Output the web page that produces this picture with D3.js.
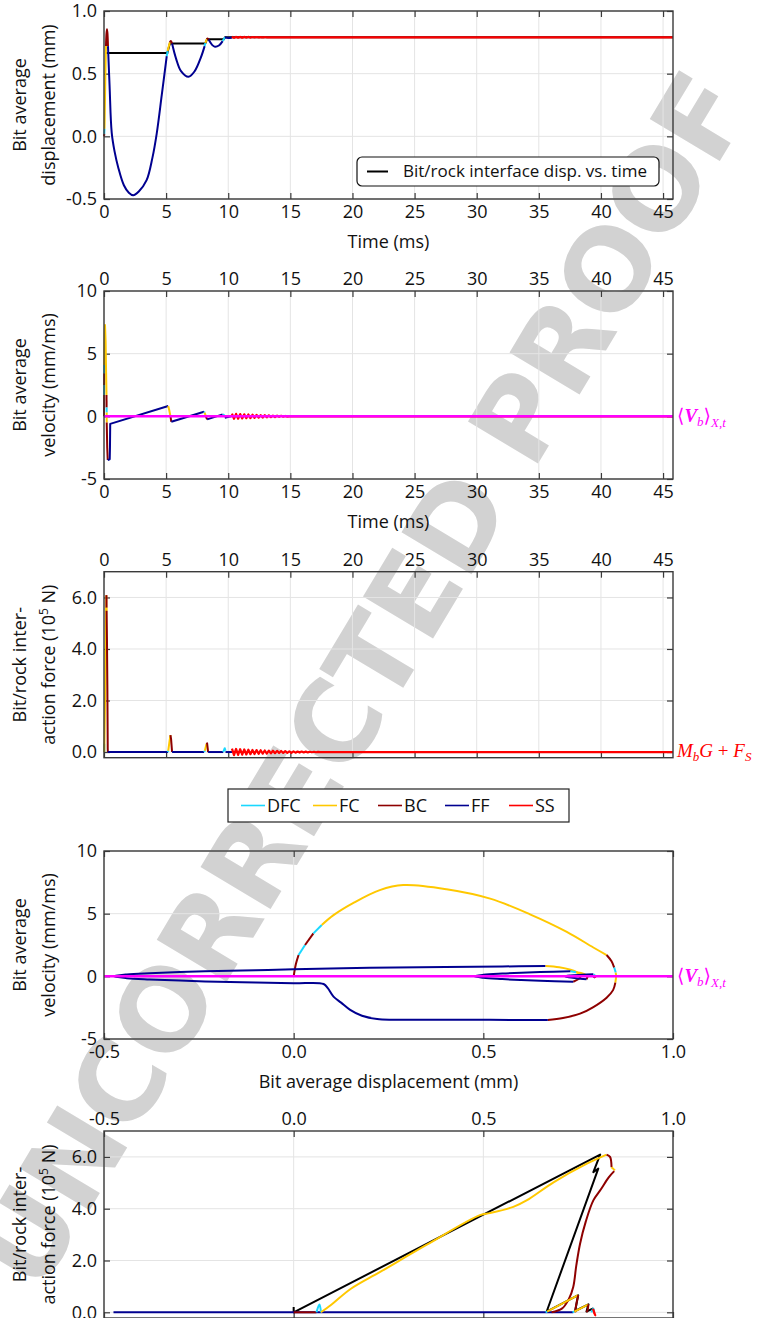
<!DOCTYPE html>
<html>
<head>
<meta charset="utf-8">
<script src="https://cdn.jsdelivr.net/npm/d3@7"></script>
<style>
  body { margin: 0; background: #fff; }
  text { font-family: "Open Sans", sans-serif; }
</style>
</head>
<body>
<div id="chart"></div>
<script>
// ---- data ----
const tMax = 45.8;
const timeTicks = [0, 5, 10, 15, 20, 25, 30, 35, 40, 45];
const dispTicks = [-0.5, 0, 0.5, 1.0];
const velTicks = [-5, 0, 5, 10];
const forceTicks = [0, 2, 4, 6];
const modes = ["DFC", "FC", "BC", "FF", "SS"];

// displacement (mm) vs time (ms), one entry per regime segment
const dispTime = [
  {mode: "BC",  pts: [[0, 0], [0.02, 0.02]]},
  {mode: "DFC", pts: [[0.02, 0.02], [0.04, 0.06]]},
  {mode: "FC",  pts: [[0.04, 0.06], [0.08, 0.3], [0.12, 0.55], [0.16, 0.72]]},
  {mode: "BC",  pts: [[0.16, 0.72], [0.2, 0.82], [0.24, 0.855], [0.28, 0.82], [0.32, 0.72]]},
  {mode: "FF",  pts: [[0.32, 0.72], [0.45, 0.4], [0.62, 0.03], [0.85, -0.12], [1.15, -0.25], [1.6, -0.39],
                      [2.0, -0.45], [2.35, -0.47], [2.8, -0.44], [3.43, -0.35], [3.9, -0.17], [4.24, 0.02],
                      [4.65, 0.33], [5.05, 0.64]]},
  {mode: "DFC", pts: [[5.05, 0.64], [5.12, 0.68]]},
  {mode: "FC",  pts: [[5.12, 0.68], [5.3, 0.75]]},
  {mode: "BC",  pts: [[5.3, 0.75], [5.38, 0.76], [5.48, 0.74]]},
  {mode: "FF",  pts: [[5.48, 0.74], [5.8, 0.62], [6.2, 0.52], [6.8, 0.475], [7.3, 0.52], [7.8, 0.63], [8.1, 0.72]]},
  {mode: "DFC", pts: [[8.1, 0.72], [8.16, 0.745]]},
  {mode: "FC",  pts: [[8.16, 0.745], [8.28, 0.775]]},
  {mode: "BC",  pts: [[8.28, 0.775], [8.34, 0.78], [8.42, 0.772]]},
  {mode: "FF",  pts: [[8.42, 0.772], [8.7, 0.73], [8.94, 0.715], [9.25, 0.725], [9.55, 0.76]]},
  {mode: "DFC", pts: [[9.55, 0.76], [9.74, 0.79]]},
  {mode: "FF",  pts: [[9.74, 0.79], [10.0, 0.784], [10.3, 0.788]]}
];
// bit/rock interface displacement vs time
const interfaceDisp = [[0.2, 0.665], [5.1, 0.665], [5.3, 0.74], [8.15, 0.74], [8.3, 0.775],
                       [9.65, 0.775], [9.75, 0.79], [tMax, 0.79]];

// velocity (mm/ms) vs time (ms)
const velTime = [
  {mode: "BC",  pts: [[0, 0], [0.008, 1.7]]},
  {mode: "DFC", pts: [[0.008, 1.7], [0.012, 2.5]]},
  {mode: "BC",  pts: [[0.012, 2.5], [0.017, 3.43]]},
  {mode: "DFC", pts: [[0.017, 3.43], [0.022, 4.09]]},
  {mode: "FC",  pts: [[0.022, 4.09], [0.05, 6.5], [0.08, 7.28], [0.13, 6.0], [0.17, 3.5], [0.2, 1.7]]},
  {mode: "BC",  pts: [[0.2, 1.7], [0.21, 0.7]]},
  {mode: "DFC", pts: [[0.21, 0.7], [0.215, 0.3]]},
  {mode: "FC",  pts: [[0.215, 0.3], [0.22, -0.5]]},
  {mode: "BC",  pts: [[0.22, -0.5], [0.26, -2.5], [0.3, -3.48]]},
  {mode: "FF",  pts: [[0.3, -3.48], [0.46, -3.43], [0.48, -2.5], [0.5, -0.6], [5.17, 0.82]]},
  {mode: "FC",  pts: [[5.17, 0.82], [5.25, 0.5], [5.35, 0]]},
  {mode: "BC",  pts: [[5.35, 0], [5.42, -0.43]]},
  {mode: "FF",  pts: [[5.42, -0.43], [8.05, 0.37]]},
  {mode: "DFC", pts: [[8.05, 0.37], [8.1, 0.3]]},
  {mode: "FC",  pts: [[8.1, 0.3], [8.2, 0]]},
  {mode: "BC",  pts: [[8.2, 0], [8.3, -0.24]]},
  {mode: "FF",  pts: [[8.3, -0.24], [9.55, 0.16]]},
  {mode: "DFC", pts: [[9.55, 0.16], [9.7, 0.08]]},
  {mode: "FF",  pts: [[9.72, -0.12], [10.3, 0.03]]}
];

// force (1e5 N) vs time (ms)
const forceTime = [
  {mode: "BC",  pts: [[0, 0], [0.015, 0.02]]},
  {mode: "DFC", pts: [[0.015, 0.02], [0.022, 0.3], [0.024, 0]]},
  {mode: "FC",  pts: [[0.024, 0], [0.1, 2.5], [0.16, 5.0], [0.19, 6.09]]},
  {mode: "BC",  pts: [[0.19, 6.09], [0.2, 6.0], [0.205, 5.6]]},
  {mode: "FC",  pts: [[0.205, 5.6], [0.21, 5.48]]},
  {mode: "BC",  pts: [[0.21, 5.48], [0.24, 4.3], [0.27, 2.6], [0.29, 1.0], [0.3, 0.14], [0.31, 0]]},
  {mode: "FF",  pts: [[0.31, 0], [5.15, 0]]},
  {mode: "DFC", pts: [[5.12, 0], [5.17, 0.05]]},
  {mode: "FC",  pts: [[5.17, 0.05], [5.3, 0.5], [5.35, 0.66]]},
  {mode: "BC",  pts: [[5.35, 0.66], [5.4, 0.5], [5.48, 0]]},
  {mode: "FF",  pts: [[5.48, 0], [8.05, 0]]},
  {mode: "DFC", pts: [[8.05, 0], [8.12, 0.05]]},
  {mode: "FC",  pts: [[8.12, 0.05], [8.25, 0.31]]},
  {mode: "BC",  pts: [[8.25, 0.31], [8.3, 0.34], [8.38, 0]]},
  {mode: "FF",  pts: [[8.38, 0], [9.6, 0]]},
  {mode: "DFC", pts: [[9.6, 0], [9.72, 0.15], [9.78, 0.05]]},
  {mode: "FF",  pts: [[9.78, 0], [10.3, 0]]}
];

// steady-state (SS) ringing after t = 10.3 ms, sampled every half period
const ssStart = 10.3, ssStep = 0.165;
const ssForce = [0.13, -0.12, 0.12, -0.11, 0.11, -0.1, 0.1, -0.095, 0.09, -0.085, 0.08, -0.08, 0.075, -0.07,
                 0.07, -0.065, 0.06, -0.06, 0.055, -0.05, 0.05, -0.045, 0.045, -0.04, 0.04, -0.035, 0.035,
                 -0.03, 0.03, -0.03, 0.025, -0.025, 0.02, -0.02, 0.02, -0.015, 0.015, -0.015, 0.01, -0.01,
                 0.01, -0.01, 0.005, -0.005, 0];
const ssVel = [0.22, -0.2, 0.2, -0.19, 0.18, -0.17, 0.16, -0.15, 0.15, -0.14, 0.13, -0.12, 0.12, -0.11,
               0.1, -0.1, 0.09, -0.08, 0.08, -0.07, 0.06, -0.06, 0.05, -0.04, 0.04, -0.03, 0.03, -0.02, 0];
const ssDisp = [0.795, 0.786, 0.794, 0.787, 0.794, 0.787, 0.793, 0.788, 0.793, 0.788, 0.792, 0.789, 0.792,
                0.789, 0.791, 0.789, 0.791, 0.79, 0.79];

// velocity (mm/ms) vs displacement (mm)
const velDisp = [
  {mode: "BC",  pts: [[0, 0], [0.006, 1.0], [0.013, 1.7]]},
  {mode: "DFC", pts: [[0.013, 1.7], [0.03, 2.5]]},
  {mode: "BC",  pts: [[0.03, 2.5], [0.052, 3.43]]},
  {mode: "DFC", pts: [[0.052, 3.43], [0.074, 4.09]]},
  {mode: "FC",  pts: [[0.074, 4.09], [0.105, 4.88], [0.16, 5.9], [0.227, 6.88], [0.289, 7.28], [0.403, 6.95],
                      [0.518, 6.2], [0.623, 4.95], [0.72, 3.55], [0.79, 2.3], [0.825, 1.7]]},
  {mode: "BC",  pts: [[0.825, 1.7], [0.838, 1.2], [0.845, 0.7]]},
  {mode: "DFC", pts: [[0.845, 0.7], [0.849, 0.3]]},
  {mode: "FC",  pts: [[0.849, 0.3], [0.85, 0], [0.848, -0.5]]},
  {mode: "BC",  pts: [[0.848, -0.5], [0.842, -1.1], [0.825, -1.7], [0.79, -2.45], [0.755, -2.98], [0.71, -3.32], [0.67, -3.48]]},
  {mode: "FF",  pts: [[0.67, -3.48], [0.4, -3.46], [0.22, -3.4], [0.18, -3.15], [0.149, -2.68], [0.125, -2.1],
                      [0.105, -1.62], [0.09, -0.95], [0.079, -0.61], [0, -0.56], [-0.1, -0.49], [-0.2, -0.43],
                      [-0.3, -0.34], [-0.38, -0.25], [-0.44, -0.15], [-0.475, 0], [-0.44, 0.15], [-0.38, 0.25],
                      [-0.3, 0.34], [-0.2, 0.43], [-0.1, 0.49], [0, 0.56], [0.2, 0.68], [0.4, 0.75], [0.55, 0.79], [0.664, 0.82]]},
  {mode: "FC",  pts: [[0.664, 0.82], [0.7, 0.72], [0.73, 0.52], [0.746, 0.33], [0.755, 0.1], [0.757, 0]]},
  {mode: "BC",  pts: [[0.757, 0], [0.752, -0.2], [0.737, -0.43]]},
  {mode: "FF",  pts: [[0.737, -0.43], [0.65, -0.36], [0.6, -0.3], [0.55, -0.22], [0.5, -0.12], [0.476, 0],
                      [0.5, 0.12], [0.55, 0.22], [0.6, 0.29], [0.65, 0.34], [0.73, 0.4]]},
  {mode: "DFC", pts: [[0.73, 0.4], [0.745, 0.33]]},
  {mode: "FC",  pts: [[0.745, 0.33], [0.765, 0.2], [0.775, 0]]},
  {mode: "BC",  pts: [[0.775, 0], [0.772, -0.24]]},
  {mode: "FF",  pts: [[0.772, -0.24], [0.745, -0.15], [0.725, -0.07], [0.715, 0], [0.73, 0.07], [0.76, 0.12], [0.79, 0.16]]},
  {mode: "DFC", pts: [[0.79, 0.16], [0.795, 0.05]]},
  {mode: "FF",  pts: [[0.795, -0.1], [0.79, 0]]},
  {mode: "SS",  pts: [[0.79, 0.05], [0.795, -0.05], [0.79, 0]]}
];

// force (1e5 N) vs displacement (mm)
const forceDisp = [
  {mode: "FF",  pts: [[-0.475, 0], [0.737, 0]]},
  {mode: "BC",  pts: [[0, 0], [0.06, 0]]},
  {mode: "DFC", pts: [[0.06, 0], [0.068, 0.3], [0.072, 0]]},
  {mode: "FC",  pts: [[0.072, 0], [0.1, 0.3], [0.15, 0.9], [0.228, 1.56], [0.35, 2.6], [0.491, 3.75], [0.518, 3.83],
                      [0.579, 4.07], [0.614, 4.32], [0.685, 5.02], [0.773, 5.74], [0.825, 6.09]]},
  {mode: "BC",  pts: [[0.825, 6.09], [0.834, 6.0], [0.838, 5.6]]},
  {mode: "FC",  pts: [[0.838, 5.6], [0.847, 5.48]]},
  {mode: "BC",  pts: [[0.845, 5.45], [0.83, 5.2], [0.81, 4.75], [0.79, 4.32], [0.77, 3.5], [0.755, 2.65],
                      [0.745, 1.8], [0.737, 0.98], [0.725, 0.5], [0.707, 0.14], [0.68, 0]]},
  {mode: "DFC", pts: [[0.664, 0], [0.668, 0.03]]},
  {mode: "FC",  pts: [[0.668, 0.03], [0.75, 0.66]]},
  {mode: "BC",  pts: [[0.75, 0.66], [0.745, 0.3], [0.742, 0]]},
  {mode: "DFC", pts: [[0.735, 0], [0.74, 0.03]]},
  {mode: "FC",  pts: [[0.74, 0.03], [0.777, 0.31]]},
  {mode: "BC",  pts: [[0.777, 0.31], [0.775, 0.1], [0.772, 0]]},
  {mode: "DFC", pts: [[0.785, 0], [0.79, 0.15], [0.792, 0]]},
  {mode: "SS",  pts: [[0.789, 0.13], [0.795, -0.12], [0.79, 0.1], [0.794, -0.08], [0.791, 0]]}
];
// bit/rock interface force vs interface displacement
const interfaceForce = [[0, 0.2], [0, 0], [0.808, 6.09], [0.79, 5.41], [0.803, 5.55], [0.667, 0.03],
                        [0.75, 0.66], [0.742, 0.05], [0.777, 0.31], [0.772, 0.03], [0.79, 0.15]];

// ---- styles ----
const modeColor = {DFC: "#1ad8ff", FC: "#ffc800", BC: "#8e0000", FF: "#000090", SS: "#ff0000"};
const gridColor = "#e4e4e4", boxColor = "#3a3a3a", fs = 18;

const svg = d3.select("#chart").append("svg")
  .attr("width", 762).attr("height", 1318);

// watermark (behind everything)
svg.append("text")
  .attr("transform", "translate(396,700) rotate(-59)")
  .attr("text-anchor", "middle")
  .attr("textLength", 1390).attr("lengthAdjust", "spacing")
  .style("font-family", "'DejaVu Sans', sans-serif")
  .style("font-weight", "bold").style("font-size", "112px")
  .attr("fill", "#d2d2d2")
  .text("UNCORRECTED PROOF");

const fmt1 = v => d3.format(".1f")(v).replace("−", "-");
const fmt0 = v => d3.format("d")(v).replace("−", "-");

function panel(o) {
  const x = d3.scaleLinear().domain(o.xDomain).range([104, 673]);
  const y = d3.scaleLinear().domain(o.yDomain).range([o.bottom, o.top]);
  const g = svg.append("g");
  const h = o.bottom - o.top;

  // grid
  g.append("g").selectAll("line").data(o.xTicks).join("line")
    .attr("x1", d => x(d)).attr("x2", d => x(d)).attr("y1", o.top).attr("y2", o.bottom)
    .attr("stroke", gridColor).attr("stroke-width", 1);
  g.append("g").selectAll("line").data(o.yTicks).join("line")
    .attr("x1", 104).attr("x2", 673).attr("y1", d => y(d)).attr("y2", d => y(d))
    .attr("stroke", gridColor).attr("stroke-width", 1);

  // axes, ticks pointing inwards on all four sides
  const ax = [
    g.append("g").attr("transform", `translate(0,${o.bottom})`)
      .call(d3.axisBottom(x).tickValues(o.xTicks).tickFormat(o.bottomLabels ? o.xFmt : "").tickSize(-6).tickPadding(6)),
    g.append("g").attr("transform", `translate(0,${o.top})`)
      .call(d3.axisTop(x).tickValues(o.xTicks).tickFormat(o.topLabels ? o.xFmt : "").tickSize(-6).tickPadding(6)),
    g.append("g").attr("transform", "translate(104,0)")
      .call(d3.axisLeft(y).tickValues(o.yTicks).tickFormat(o.yFmt).tickSize(-6).tickPadding(7)),
    g.append("g").attr("transform", "translate(673,0)")
      .call(d3.axisRight(y).tickValues(o.yTicks).tickFormat("").tickSize(-6))
  ];
  ax.forEach(a => {
    a.select(".domain").remove();
    a.selectAll(".tick line").attr("stroke", boxColor).attr("stroke-width", 1.2);
    a.selectAll("text").style("font-family", "'Open Sans', sans-serif").style("font-size", fs + "px").attr("fill", "#111");
  });

  // y label, two lines
  const cy = (o.top + o.bottom) / 2;
  o.yLabel.forEach((l, i) => {
    const t = g.append("text")
      .attr("transform", `translate(${26 + i * 28.5},${cy}) rotate(-90)`)
      .attr("text-anchor", "middle").style("font-size", fs + "px").attr("fill", "#111");
    if (typeof l === "string") t.text(l);
    else l(t);
  });
  if (o.xLabel) {
    g.append("text").attr("x", (104 + 673) / 2).attr("y", o.bottom + 49)
      .attr("text-anchor", "middle").style("font-size", fs + "px").attr("fill", "#111").text(o.xLabel);
  }

  const line = d3.line().x(d => x(d[0])).y(d => y(d[1]))
    .curve(o.linear ? d3.curveLinear : d3.curveCatmullRom.alpha(0.5));
  return {g, x, y, line, draw: () => g.append("rect").attr("x", 104).attr("y", o.top)
    .attr("width", 569).attr("height", h).attr("fill", "none")
    .attr("stroke", boxColor).attr("stroke-width", 1.4)};
}

function drawSegs(p, segs) {
  p.g.append("g").selectAll("path").data(segs).join("path")
    .attr("d", d => p.line(d.pts))
    .attr("fill", "none")
    .attr("stroke", d => modeColor[d.mode])
    .attr("stroke-width", d => d.mode === "SS" ? 2.2 : 2)
    .attr("stroke-linejoin", "round");
}

function forceLabel(t) {
  t.text("action force (10");
  t.append("tspan").attr("dy", -7).style("font-size", "12px").text("5");
  t.append("tspan").attr("dy", 7).text(" N)");
}

// ---- panel 1: displacement vs time ----
const p1 = panel({xDomain: [0, tMax], yDomain: [-0.5, 1], top: 11, bottom: 199,
  xTicks: timeTicks, yTicks: dispTicks, xFmt: fmt0, yFmt: fmt1, bottomLabels: true,
  yLabel: ["Bit average", "displacement (mm)"], xLabel: "Time (ms)"});
p1.g.append("path").attr("d", d3.line().x(d => p1.x(d[0])).y(d => p1.y(d[1]))(interfaceDisp))
  .attr("fill", "none").attr("stroke", "#000").attr("stroke-width", 2);
drawSegs(p1, dispTime);
drawSegs(p1, [{mode: "SS", pts: ssDisp.map((v, i) => [ssStart + i * ssStep, v]).concat([[tMax, 0.79]])}]);
p1.draw();
// legend of panel 1
const lg1 = p1.g.append("g");
lg1.append("rect").attr("x", 357).attr("y", 157).attr("width", 302).attr("height", 29).attr("rx", 5)
  .attr("fill", "#fff").attr("stroke", "#111").attr("stroke-width", 1.2);
lg1.append("line").attr("x1", 367).attr("x2", 388).attr("y1", 171.5).attr("y2", 171.5)
  .attr("stroke", "#000").attr("stroke-width", 2);
lg1.append("text").attr("x", 403).attr("y", 177).style("font-size", "17px").attr("fill", "#111")
  .text("Bit/rock interface disp. vs. time");

// ---- panel 2: velocity vs time ----
const p2 = panel({xDomain: [0, tMax], yDomain: [-5, 10], top: 291, bottom: 479, linear: true,
  xTicks: timeTicks, yTicks: velTicks, xFmt: fmt0, yFmt: fmt0, bottomLabels: true, topLabels: true,
  yLabel: ["Bit average", "velocity (mm/ms)"], xLabel: "Time (ms)"});
drawSegs(p2, velTime);
drawSegs(p2, [{mode: "SS", pts: ssVel.map((v, i) => [ssStart + i * ssStep, v]).concat([[tMax, 0]])}]);
p2.g.append("line").attr("x1", p2.x(0)).attr("x2", p2.x(tMax)).attr("y1", p2.y(0)).attr("y2", p2.y(0))
  .attr("stroke", "#ff00ff").attr("stroke-width", 2.5);
p2.draw();

// ---- panel 3: force vs time ----
const p3 = panel({xDomain: [0, tMax], yDomain: [-0.22, 7], top: 571.7, bottom: 757.7, linear: true,
  xTicks: timeTicks, yTicks: forceTicks, xFmt: fmt0, yFmt: fmt1, topLabels: true,
  yLabel: ["Bit/rock inter-", forceLabel]});
drawSegs(p3, forceTime);
drawSegs(p3, [{mode: "SS", pts: ssForce.map((v, i) => [ssStart + i * ssStep, v]).concat([[tMax, 0]])}]);
p3.draw();

// ---- legend of regimes ----
const lg = svg.append("g");
lg.append("rect").attr("x", 228).attr("y", 789).attr("width", 341).attr("height", 33)
  .attr("fill", "#fff").attr("stroke", "#222").attr("stroke-width", 1.2);
const legX = [241, 313, 378, 445, 509];
modes.forEach((m, i) => {
  lg.append("line").attr("x1", legX[i]).attr("x2", legX[i] + 24).attr("y1", 805.5).attr("y2", 805.5)
    .attr("stroke", modeColor[m]).attr("stroke-width", 1.6);
  lg.append("text").attr("x", legX[i] + 26).attr("y", 812).style("font-size", fs + "px").attr("fill", "#111").text(m);
});

// ---- panel 4: velocity vs displacement ----
const p4 = panel({xDomain: [-0.5, 1], yDomain: [-5, 10], top: 851, bottom: 1039,
  xTicks: dispTicks, yTicks: velTicks, xFmt: fmt1, yFmt: fmt0, bottomLabels: true,
  yLabel: ["Bit average", "velocity (mm/ms)"], xLabel: "Bit average displacement (mm)"});
drawSegs(p4, velDisp);
p4.g.append("line").attr("x1", p4.x(-0.5)).attr("x2", p4.x(1)).attr("y1", p4.y(0)).attr("y2", p4.y(0))
  .attr("stroke", "#ff00ff").attr("stroke-width", 2.5);
p4.draw();

// ---- panel 5: force vs displacement ----
const p5 = panel({xDomain: [-0.5, 1], yDomain: [-0.22, 7], top: 1131, bottom: 1318,
  xTicks: dispTicks, yTicks: forceTicks, xFmt: fmt1, yFmt: fmt1, topLabels: true,
  yLabel: ["Bit/rock inter-", forceLabel]});
p5.g.append("path").attr("d", d3.line().x(d => p5.x(d[0])).y(d => p5.y(d[1]))(interfaceForce))
  .attr("fill", "none").attr("stroke", "#000").attr("stroke-width", 2).attr("stroke-linejoin", "round");
drawSegs(p5, forceDisp);
p5.draw();

// ---- right-hand math labels ----
function velLabel(yy) {
  const t = svg.append("text").attr("x", 677).attr("y", yy).attr("fill", "#ff00ff")
    .style("font-family", "'Liberation Serif', 'DejaVu Serif', serif").style("font-size", "19px");
  t.append("tspan").text("\u27E8");
  t.append("tspan").style("font-weight", "bold").style("font-style", "italic").text("V");
  t.append("tspan").attr("dy", 4).style("font-size", "13px").style("font-style", "italic").text("b");
  t.append("tspan").attr("dy", -4).text("\u27E9");
  t.append("tspan").attr("dy", 5).style("font-size", "13px").style("font-style", "italic").text("X,t");
}
velLabel(p2.y(0) + 6);
velLabel(p4.y(0) + 6);
{
  const t = svg.append("text").attr("x", 677).attr("y", p3.y(0) + 5).attr("fill", "#ff0000")
    .style("font-family", "'Liberation Serif', 'DejaVu Serif', serif").style("font-size", "19px");
  t.append("tspan").style("font-style", "italic").text("M");
  t.append("tspan").attr("dy", 4).style("font-size", "13px").style("font-style", "italic").text("b");
  t.append("tspan").attr("dy", -4).style("font-style", "italic").text("G");
  t.append("tspan").text(" + ");
  t.append("tspan").style("font-style", "italic").text("F");
  t.append("tspan").attr("dy", 4).style("font-size", "13px").style("font-style", "italic").text("S");
}
</script>
</body>
</html>
